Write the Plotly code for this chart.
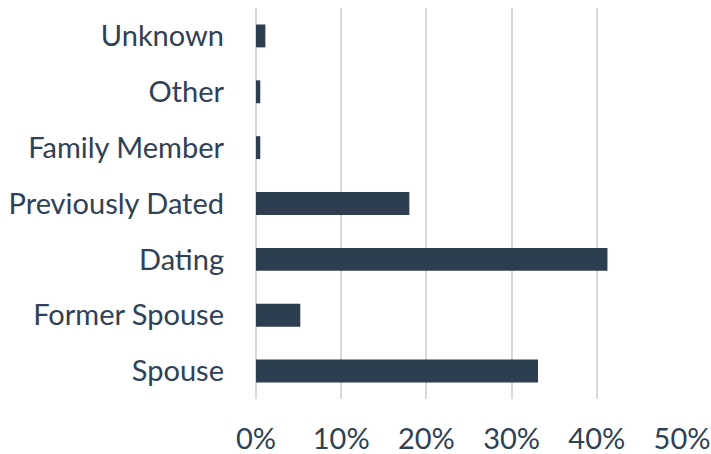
import plotly.graph_objects as go

categories = ["Spouse", "Former Spouse", "Dating", "Previously Dated",
              "Family Member", "Other", "Unknown"]
values = [0.331, 0.052, 0.4125, 0.180, 0.005, 0.005, 0.011]
tick_vals = [0, 0.1, 0.2, 0.3, 0.4, 0.5]
tick_text = ["0%", "10%", "20%", "30%", "40%", "50%"]

bar_color = "#2c3e50"
text_color = "#2e4156"
grid_color = "#d9d9d9"
font_family = "Lato, 'Open Sans', sans-serif"

fig = go.Figure(go.Bar(
    x=values, y=categories, orientation="h",
    marker=dict(color=bar_color, line=dict(width=0)),
))

fig.update_layout(
    width=711, height=454,
    margin=dict(l=256, r=29, t=8, b=55),
    paper_bgcolor="white", plot_bgcolor="white",
    bargap=0.59,
    showlegend=False,
    font=dict(family=font_family, size=29, color=text_color),
)
fig.update_xaxes(
    range=[0, 0.5], tickvals=tick_vals, ticktext=tick_text,
    showgrid=True, gridcolor=grid_color, gridwidth=2,
    zeroline=True, zerolinecolor=grid_color, zerolinewidth=2,
    showline=False, ticks="", ticklabelstandoff=20, automargin=False,
    tickfont=dict(family=font_family, size=29, color=text_color),
)
fig.update_yaxes(
    categoryorder="array", categoryarray=categories,
    showgrid=False, zeroline=False, showline=False, ticks="",
    ticklabelstandoff=31, automargin=False,
    tickfont=dict(family=font_family, size=29, color=text_color),
)

fig.write_html(
    "out.html",
    config={"displayModeBar": False},
    post_script="document.body.style.margin='0';document.body.style.overflow='hidden';",
)
